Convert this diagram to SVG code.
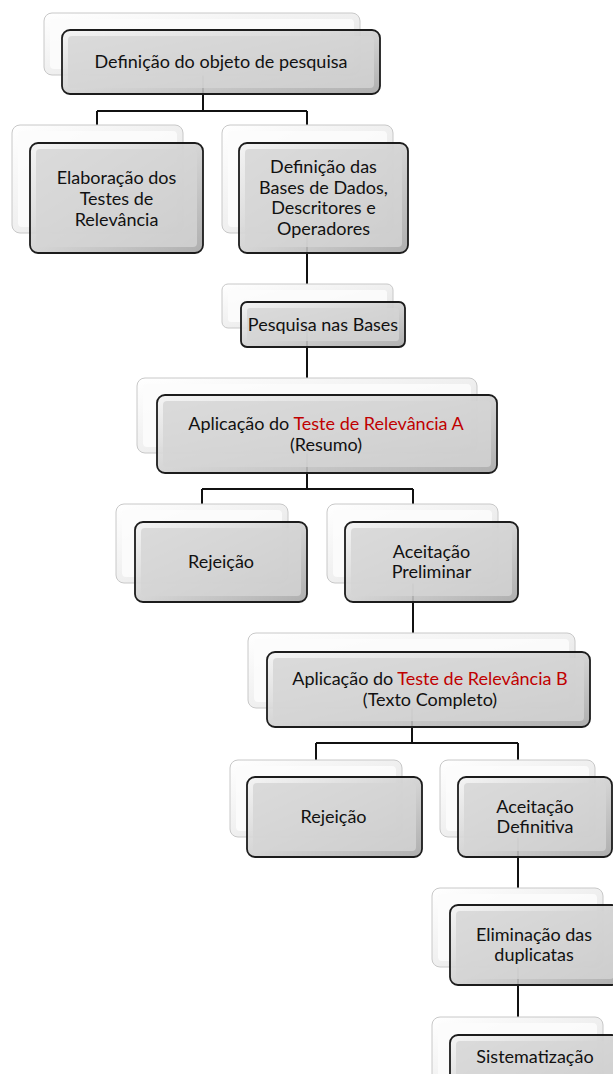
<svg xmlns="http://www.w3.org/2000/svg" width="613" height="1074" viewBox="0 0 613 1074">
<defs>
<linearGradient id="gMain" x1="0" y1="0" x2="1" y2="1">
<stop offset="0" stop-color="#f4f4f4" stop-opacity="0.9"/>
<stop offset="0.5" stop-color="#d0d0d0" stop-opacity="0.9"/>
<stop offset="1" stop-color="#a6a6a6" stop-opacity="0.9"/>
</linearGradient>
<linearGradient id="gBack" x1="0" y1="0" x2="1" y2="1">
<stop offset="0" stop-color="#ffffff" stop-opacity="0.9"/>
<stop offset="1" stop-color="#dcdcdc" stop-opacity="0.9"/>
</linearGradient>
<style>
.bk{fill:url(#gBack);stroke:#c8c8c8;stroke-width:1}
.bki{fill:#fcfcfc;fill-opacity:0.88}
.mn{fill:url(#gMain);stroke:#1c1c1c;stroke-width:1.8}
.mni{fill:#d5d5d5;fill-opacity:0.8}
.t{font-family:Lato,"Open Sans",sans-serif;font-size:18px;fill:#111;text-anchor:middle}
.r{fill:#c00000}
.cn{fill:none;stroke:#111;stroke-width:2}
</style>
</defs>
<rect width="613" height="1074" fill="#ffffff"/>
<g id="connectors">
<path class="cn" d="M203,62 V111 M97,111 H307 M97,111 V125 M307,111 V125"/>
<path class="cn" d="M307,198 V284"/>
<path class="cn" d="M307,324 V378"/>
<path class="cn" d="M307,434 V489 M202,489 H413 M202,489 V504 M413,489 V504"/>
<path class="cn" d="M413,562 V633"/>
<path class="cn" d="M412,689 V743 M316,743 H518 M316,743 V760 M518,743 V760"/>
<path class="cn" d="M518,817 V888"/>
<path class="cn" d="M518,945 V1017"/>
</g>
<g id="n1">
<rect class="bk" x="44" y="13" width="316" height="62" rx="8"/>
<rect class="bki" x="50" y="19" width="304" height="50" rx="4"/>
<rect class="mn" x="62" y="30" width="318" height="64" rx="8"/>
<rect class="mni" x="68" y="36" width="306" height="52" rx="4"/>
<text class="t" x="221" y="68">Definição do objeto de pesquisa</text>
</g>
<g id="n2">
<rect class="bk" x="12" y="125" width="171" height="108" rx="8"/>
<rect class="bki" x="18" y="131" width="159" height="96" rx="4"/>
<rect class="mn" x="30" y="143" width="173" height="110" rx="8"/>
<rect class="mni" x="36" y="149" width="161" height="98" rx="4"/>
<text class="t" x="116.5" y="184">Elaboração dos</text>
<text class="t" x="116.5" y="205">Testes de</text>
<text class="t" x="116.5" y="226">Relevância</text>
</g>
<g id="n3">
<rect class="bk" x="222" y="125" width="171" height="108" rx="8"/>
<rect class="bki" x="228" y="131" width="159" height="96" rx="4"/>
<rect class="mn" x="239" y="143" width="169" height="110" rx="8"/>
<rect class="mni" x="245" y="149" width="157" height="98" rx="4"/>
<text class="t" x="323.5" y="173">Definição das</text>
<text class="t" x="323.5" y="193.5">Bases de Dados,</text>
<text class="t" x="323.5" y="214">Descritores e</text>
<text class="t" x="323.5" y="234.5">Operadores</text>
</g>
<g id="n4">
<rect class="bk" x="222" y="284" width="171" height="44" rx="6"/>
<rect class="bki" x="228" y="290" width="159" height="32" rx="3"/>
<rect class="mn" x="241" y="302" width="164" height="45" rx="6"/>
<rect class="mni" x="247" y="308" width="152" height="33" rx="3"/>
<text class="t" x="323" y="330.5">Pesquisa nas Bases</text>
</g>
<g id="n5">
<rect class="bk" x="137" y="378" width="340" height="75" rx="8"/>
<rect class="bki" x="143" y="384" width="328" height="63" rx="4"/>
<rect class="mn" x="157" y="395" width="340" height="78" rx="8"/>
<rect class="mni" x="163" y="401" width="328" height="66" rx="4"/>
<text class="t" x="326" y="430">Aplicação do <tspan class="r">Teste de Relevância A</tspan></text>
<text class="t" x="326" y="451">(Resumo)</text>
</g>
<g id="n6">
<rect class="bk" x="116" y="504" width="172" height="79" rx="8"/>
<rect class="bki" x="122" y="510" width="160" height="67" rx="4"/>
<rect class="mn" x="135" y="522" width="172" height="80" rx="8"/>
<rect class="mni" x="141" y="528" width="160" height="68" rx="4"/>
<text class="t" x="221" y="568">Rejeição</text>
</g>
<g id="n7">
<rect class="bk" x="327" y="504" width="171" height="79" rx="8"/>
<rect class="bki" x="333" y="510" width="159" height="67" rx="4"/>
<rect class="mn" x="345" y="522" width="173" height="80" rx="8"/>
<rect class="mni" x="351" y="528" width="161" height="68" rx="4"/>
<text class="t" x="431.5" y="557.5">Aceitação</text>
<text class="t" x="431.5" y="578">Preliminar</text>
</g>
<g id="n8">
<rect class="bk" x="248" y="633" width="327" height="75" rx="8"/>
<rect class="bki" x="254" y="639" width="315" height="63" rx="4"/>
<rect class="mn" x="267" y="652" width="323" height="75" rx="8"/>
<rect class="mni" x="273" y="658" width="311" height="63" rx="4"/>
<text class="t" x="430" y="685">Aplicação do <tspan class="r">Teste de Relevância B</tspan></text>
<text class="t" x="430" y="706">(Texto Completo)</text>
</g>
<g id="n9">
<rect class="bk" x="230" y="760" width="172" height="77" rx="8"/>
<rect class="bki" x="236" y="766" width="160" height="65" rx="4"/>
<rect class="mn" x="247" y="777" width="175" height="80" rx="8"/>
<rect class="mni" x="253" y="783" width="163" height="68" rx="4"/>
<text class="t" x="333.5" y="823">Rejeição</text>
</g>
<g id="n10">
<rect class="bk" x="440" y="760" width="155" height="77" rx="8"/>
<rect class="bki" x="446" y="766" width="143" height="65" rx="4"/>
<rect class="mn" x="458" y="777" width="154" height="80" rx="8"/>
<rect class="mni" x="464" y="783" width="142" height="68" rx="4"/>
<text class="t" x="535" y="812.5">Aceitação</text>
<text class="t" x="535" y="833">Definitiva</text>
</g>
<g id="n11">
<rect class="bk" x="432" y="888" width="171" height="79" rx="8"/>
<rect class="bki" x="438" y="894" width="159" height="67" rx="4"/>
<rect class="mn" x="450" y="905" width="170" height="80" rx="8"/>
<rect class="mni" x="456" y="911" width="158" height="68" rx="4"/>
<text class="t" x="534" y="940.5">Eliminação das</text>
<text class="t" x="534" y="961">duplicatas</text>
</g>
<g id="n12">
<rect class="bk" x="432" y="1017" width="171" height="79" rx="8"/>
<rect class="bki" x="438" y="1023" width="159" height="67" rx="4"/>
<rect class="mn" x="450" y="1035" width="170" height="80" rx="8"/>
<rect class="mni" x="456" y="1041" width="158" height="68" rx="4"/>
<text class="t" x="535" y="1063">Sistematização</text>
</g>
</svg>
